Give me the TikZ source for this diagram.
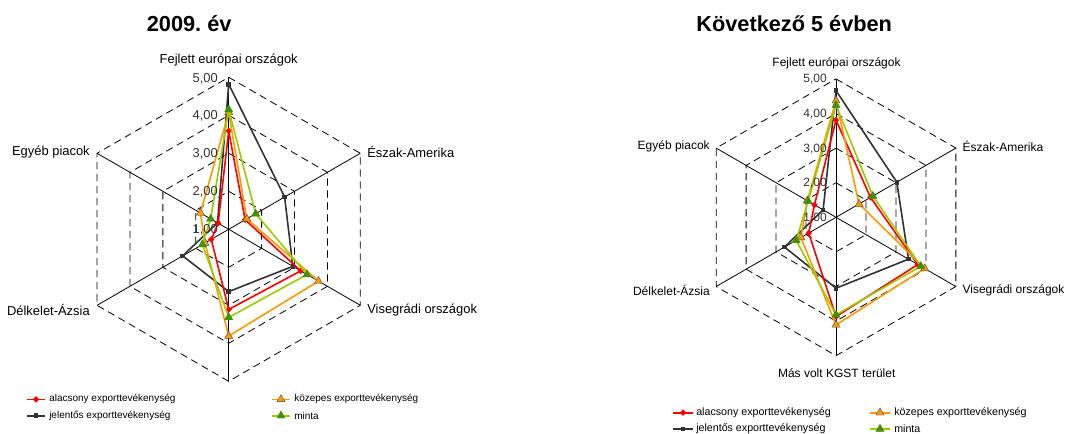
\documentclass[tikz,border=0pt]{standalone}
\usepackage{fontspec}
\setmainfont{Liberation Sans}
\usetikzlibrary{shapes.geometric}

\definecolor{lowred}{HTML}{FF0000}
\definecolor{midorange}{HTML}{FF9900}
\definecolor{highgray}{HTML}{333333}
\definecolor{samplegreen}{HTML}{99CC00}
\definecolor{samplefill}{HTML}{339900}

\tikzset{
  ring/.style={line width=0.6pt, dash pattern=on 5.5pt off 3.5pt},
  spoke/.style={line width=0.6pt},
  lowline/.style={lowred, line width=1.2pt, line join=round},
  midline/.style={midorange, line width=1.2pt, line join=round},
  highline/.style={highgray, line width=1.2pt, line join=round},
  sampleline/.style={samplegreen, line width=1.2pt, line join=round},
  lowmark/.style={diamond, fill=lowred, inner sep=0pt, minimum size=5pt},
  highmark/.style={rectangle, fill=highgray, inner sep=0pt, minimum size=3.5pt},
  midmark/.style={regular polygon, regular polygon sides=3, fill=midorange, draw=black!70, line width=0.3pt, inner sep=0pt, minimum size=7pt},
  samplemark/.style={regular polygon, regular polygon sides=3, fill=samplefill, draw=samplegreen!60!black, line width=0.3pt, inner sep=0pt, minimum size=7pt},
  charttitle/.style={font=\bfseries\fontsize{16.3}{18}\selectfont, inner sep=0pt},
  catlabel/.style={inner sep=0pt},
  vallabel/.style={inner sep=0pt, anchor=east, text=black!80},
}

\begin{document}
\begin{tikzpicture}[x=0.75pt, y=-0.75pt]
\useasboundingbox (0,0) rectangle (1069,434);

% titles
\node[charttitle] (title-a) at (189.2,24) {2009.\ év};
\node[charttitle] (title-b) at (794.2,24) {Következő 5 évben};

% left chart (2009)
\begin{scope}[shift={(228.7,229.3)}, scale=38, yscale=-1]
  \foreach \r in {1,...,4}
    \draw[ring] (90:\r) \foreach \a in {30,-30,-90,-150,150} {-- (\a:\r)} -- cycle;
  \coordinate (A-c) at (0,0);
  \foreach \i in {1,...,6} {
    \coordinate (A-ax-\i) at ({150-60*\i}:4);
    \draw[spoke] (A-c) -- (A-ax-\i);
  }
  % jelentos
  \foreach \v [count=\i] in {4.82,2.70,2.95,2.64,2.40,1.34}
    \coordinate (A-high-\i) at ({150-60*\i}:{\v-1});
  \draw[highline] (A-high-1) -- (A-high-2) -- (A-high-3) -- (A-high-4) -- (A-high-5) -- (A-high-6) -- cycle;
  \foreach \i in {1,...,6} \node[highmark] (A-high-m\i) at (A-high-\i) {};
  % alacsony
  \foreach \v [count=\i] in {3.59,1.50,3.19,3.11,1.53,1.32}
    \coordinate (A-low-\i) at ({150-60*\i}:{\v-1});
  \draw[lowline] (A-low-1) -- (A-low-2) -- (A-low-3) -- (A-low-4) -- (A-low-5) -- (A-low-6) -- cycle;
  \foreach \i in {1,...,6} \node[lowmark] (A-low-m\i) at (A-low-\i) {};
  % kozepes
  \foreach \v [count=\i] in {4.08,1.55,3.73,3.81,1.72,1.86}
    \coordinate (A-mid-\i) at ({150-60*\i}:{\v-1});
  \draw[midline] (A-mid-1) -- (A-mid-2) -- (A-mid-3) -- (A-mid-4) -- (A-mid-5) -- (A-mid-6) -- cycle;
  \foreach \i in {1,...,6} \node[midmark] (A-mid-m\i) at (A-mid-\i) {};
  % minta
  \foreach \v [count=\i] in {4.15,1.82,3.38,3.32,1.80,1.55}
    \coordinate (A-smp-\i) at ({150-60*\i}:{\v-1});
  \draw[sampleline] (A-smp-1) -- (A-smp-2) -- (A-smp-3) -- (A-smp-4) -- (A-smp-5) -- (A-smp-6) -- cycle;
  \foreach \i in {1,...,6} \node[samplemark] (A-smp-m\i) at (A-smp-\i) {};
\end{scope}

% left chart labels
\begin{scope}[font=\fontsize{9.7}{11}\selectfont]
  \node[catlabel] (A-fejlett) at (228.7,60) {Fejlett európai országok};
  \node[catlabel, anchor=west] (A-eszak) at (367,152) {Észak-Amerika};
  \node[catlabel, anchor=west] (A-viseg) at (367,310) {Visegrádi országok};
  \node[catlabel, anchor=east] (A-delkelet) at (90,310) {Délkelet-Ázsia};
  \node[catlabel, anchor=east] (A-egyeb) at (90,152) {Egyéb piacok};
  \foreach \v/\y in {5/79,4/116.3,3/154,2/192.3,1/230}
    \node[vallabel] (A-val-\v) at (218,\y) {\v,00};
\end{scope}

% right chart (next 5 years)
\begin{scope}[shift={(836,217.3)}, scale=34.6, yscale=-1]
  \foreach \r in {1,...,4}
    \draw[ring] (90:\r) \foreach \a in {30,-30,-90,-150,150} {-- (\a:\r)} -- cycle;
  \coordinate (B-c) at (0,0);
  \foreach \i in {1,...,6} {
    \coordinate (B-ax-\i) at ({150-60*\i}:4);
    \draw[spoke] (B-c) -- (B-ax-\i);
  }
  % jelentos
  \foreach \v [count=\i] in {4.66,3.03,3.42,3.05,2.72,1.43}
    \coordinate (B-high-\i) at ({150-60*\i}:{\v-1});
  \draw[highline] (B-high-1) -- (B-high-2) -- (B-high-3) -- (B-high-4) -- (B-high-5) -- (B-high-6) -- cycle;
  \foreach \i in {1,...,6} \node[highmark] (B-high-m\i) at (B-high-\i) {};
  % alacsony
  \foreach \v [count=\i] in {3.81,2.15,3.73,3.87,1.91,1.72}
    \coordinate (B-low-\i) at ({150-60*\i}:{\v-1});
  \draw[lowline] (B-low-1) -- (B-low-2) -- (B-low-3) -- (B-low-4) -- (B-low-5) -- (B-low-6) -- cycle;
  \foreach \i in {1,...,6} \node[lowmark] (B-low-m\i) at (B-low-\i) {};
  % kozepes
  \foreach \v [count=\i] in {4.37,1.77,3.96,4.11,2.17,1.96}
    \coordinate (B-mid-\i) at ({150-60*\i}:{\v-1});
  \draw[midline] (B-mid-1) -- (B-mid-2) -- (B-mid-3) -- (B-mid-4) -- (B-mid-5) -- (B-mid-6) -- cycle;
  \foreach \i in {1,...,6} \node[midmark] (B-mid-m\i) at (B-mid-\i) {};
  % minta
  \foreach \v [count=\i] in {4.24,2.23,3.83,3.82,2.33,1.93}
    \coordinate (B-smp-\i) at ({150-60*\i}:{\v-1});
  \draw[sampleline] (B-smp-1) -- (B-smp-2) -- (B-smp-3) -- (B-smp-4) -- (B-smp-5) -- (B-smp-6) -- cycle;
  \foreach \i in {1,...,6} \node[samplemark] (B-smp-m\i) at (B-smp-\i) {};
\end{scope}

% right chart labels
\begin{scope}[font=\fontsize{9}{10.5}\selectfont]
  \node[catlabel] (B-fejlett) at (836.5,63.3) {Fejlett európai országok};
  \node[catlabel, anchor=west] (B-eszak) at (962.3,146.7) {Észak-Amerika};
  \node[catlabel, anchor=west] (B-viseg) at (962.3,290) {Visegrádi országok};
  \node[catlabel, anchor=east] (B-delkelet) at (710,290) {Délkelet-Ázsia};
  \node[catlabel, anchor=east] (B-egyeb) at (710,146.7) {Egyéb piacok};
  \node[catlabel] (B-kgst) at (836.7,372.7) {Más volt KGST terület};
  \foreach \v/\y in {5/79,4/114.3,3/149,2/182.7,1/218.3}
    \node[vallabel] (B-val-\v) at (827,\y) {\v,00};
\end{scope}

% legend, left
\begin{scope}[font=\fontsize{7.5}{9}\selectfont]
  \draw[lowline] (27,399.3) -- (45,399.3);
  \node[lowmark] (A-leg-low) at (36,399.3) {};
  \node[catlabel, anchor=west] (A-leg-lowt) at (49,399.3) {alacsony exporttevékenység};
  \draw[highline] (27,415.7) -- (45,415.7);
  \node[highmark] (A-leg-high) at (36,415.7) {};
  \node[catlabel, anchor=west] (A-leg-hight) at (49,415.7) {jelentős exporttevékenység};
  \draw[midline] (272,399.3) -- (290,399.3);
  \node[midmark] (A-leg-mid) at (281,399.3) {};
  \node[catlabel, anchor=west] (A-leg-midt) at (294,399.3) {közepes exporttevékenység};
  \draw[sampleline] (272,415.7) -- (290,415.7);
  \node[samplemark] (A-leg-smp) at (281,415.7) {};
  \node[catlabel, anchor=west] (A-leg-smpt) at (294,415.7) {minta};
\end{scope}

% legend, right
\begin{scope}[font=\fontsize{8}{9.5}\selectfont]
  \draw[lowline] (672.7,412.7) -- (693,412.7);
  \node[lowmark] (B-leg-low) at (683,412.7) {};
  \node[catlabel, anchor=west] (B-leg-lowt) at (696,412.7) {alacsony exporttevékenység};
  \draw[highline] (672.7,429) -- (693,429);
  \node[highmark] (B-leg-high) at (683,429) {};
  \node[catlabel, anchor=west] (B-leg-hight) at (696,429) {jelentős exporttevékenység};
  \draw[midline] (870,412.7) -- (890,412.7);
  \node[midmark] (B-leg-mid) at (880,412.7) {};
  \node[catlabel, anchor=west] (B-leg-midt) at (894,412.7) {közepes exporttevékenység};
  \draw[sampleline] (870,429) -- (890,429);
  \node[samplemark] (B-leg-smp) at (880,429) {};
  \node[catlabel, anchor=west] (B-leg-smpt) at (894,429) {minta};
\end{scope}

\end{tikzpicture}
\end{document}
